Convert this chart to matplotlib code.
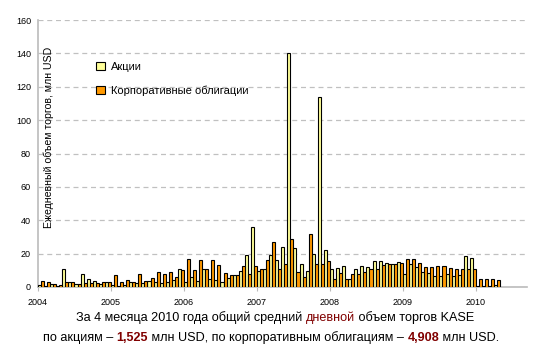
import matplotlib
matplotlib.use("Agg")
import matplotlib.pyplot as plt
import numpy as np

plt.rcParams['font.family'] = ['Liberation Sans', 'DejaVu Sans']

# monthly average daily volume, Jan 2004 .. Apr 2010, mln USD
years = ['2004', '2005', '2006', '2007', '2008', '2009', '2010']
shares = [1, 0.8, 1.5, 0.5, 10.6, 2.7, 1.5, 7.5, 5, 3.8, 1.5, 2.9,
          1, 0.5, 1, 3, 2.3, 2.3, 3.5, 3, 2.3, 2.7, 4.4, 10.6,
          3, 5.8, 3.3, 11, 5, 4.4, 3, 5.5, 7, 9.6, 19, 36,
          9.6, 11, 19, 16, 24, 140, 23.5, 14, 9.5, 20, 114, 22,
          10.7, 11.3, 12.5, 5, 11, 12.5, 12, 15.4, 15.4, 14.4, 14, 14.8,
          7.5, 13.5, 11.7, 9.2, 8.5, 6.5, 6.5, 7.5, 6.5, 7, 18.3, 17.5,
          0.5, 0.5, 0.5, 1]
bonds = [3.3, 2.7, 1.9, 1.2, 2.7, 2.7, 1.9, 2.3, 2.3, 2.3, 2.7, 2.7,
         7, 3, 4.4, 3, 7.5, 3.8, 5.4, 9, 7.5, 9, 5.8, 10,
         17, 10, 16, 10.6, 16, 13, 8.4, 7, 7, 12.5, 7.6, 12.5,
         11, 16, 27, 11, 13.5, 28.5, 9, 6, 32, 13.5, 14, 15.5,
         4.6, 8.6, 4.5, 8, 7.5, 9.2, 11, 10.6, 13, 13.7, 14, 14.4,
         16.9, 16.9, 14.4, 11.7, 11.7, 12.7, 12.7, 11.2, 10.6, 10.6, 10.6, 10.6,
         5, 5, 5, 4.4]

fig = plt.figure(figsize=(5.5, 3.52), dpi=100)
ax = fig.add_axes([38/550, 65/352, 489/550, 267/352])

x = np.arange(len(shares))
ax.bar(x + 0.25, shares, width=0.5, color='#FFFF99', edgecolor='black', linewidth=0.8,
       label='Акции', zorder=3)
ax.bar(x + 0.75, bonds, width=0.5, color='#FF9900', edgecolor='black', linewidth=0.8,
       label='Корпоративные облигации', zorder=3)

ax.set_xlim(0, 80.4)
ax.set_ylim(0, 160)
ax.set_xticks(np.arange(len(years)) * 12)
ax.set_xticklabels(years)
ax.set_yticks(np.arange(0, 161, 20))
ax.tick_params(axis='both', labelsize=6.5, color='#BBBBBB', length=3, pad=5)
ax.tick_params(axis='y', length=0)
ax.grid(axis='y', color='#C0C0C0', linestyle=(0, (4, 3)), linewidth=0.9, zorder=0)
for s in ['top', 'right']:
    ax.spines[s].set_visible(False)
for s in ['left', 'bottom']:
    ax.spines[s].set_color('#BBBBBB')
    ax.spines[s].set_linewidth(1.2)

ax.text(0.022, 0.56, 'Ежедневный объем торгов, млн USD', transform=ax.transAxes,
        rotation=90, ha='center', va='center', fontsize=7.6)

ax.legend(loc='upper left', bbox_to_anchor=(0.11, 0.86), frameon=False, fontsize=8,
          handlelength=0.8, handleheight=0.8, labelspacing=1.2, handletextpad=0.5,
          borderaxespad=0)

# caption with coloured fragments
red = '#800000'
line1 = [('За 4 месяца 2010 года общий средний ', 'black', 'normal'),
         ('дневной', red, 'normal'),
         (' объем торгов KASE', 'black', 'normal')]
line2 = [('по акциям – ', 'black', 'normal'),
         ('1,525', red, 'bold'),
         (' млн USD, по корпоративным облигациям – ', 'black', 'normal'),
         ('4,908', red, 'bold'),
         (' млн USD.', 'black', 'normal')]

renderer = fig.canvas.get_renderer()


def rich_line(parts, xc, y, size=9):
    texts = []
    for s, c, w in parts:
        texts.append(fig.text(0, y, s, color=c, fontweight=w, fontsize=size, va='center'))
    widths = [t.get_window_extent(renderer).width / fig.bbox.width for t in texts]
    xpos = xc - sum(widths) / 2
    for t, w in zip(texts, widths):
        t.set_x(xpos)
        xpos += w


rich_line(line1, 0.5, 1 - 318/352, size=9.1)
rich_line(line2, 0.493, 1 - 338/352, size=9.1)

fig.savefig('out.png', dpi=100)
